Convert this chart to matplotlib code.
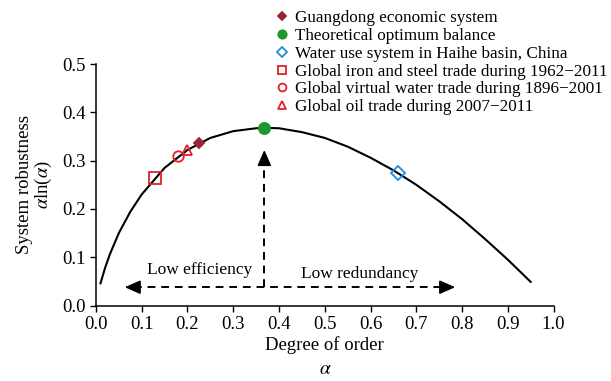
import numpy as np
import matplotlib.pyplot as plt

plt.rcParams['font.family'] = ['Liberation Serif', 'DejaVu Serif']
plt.rcParams['mathtext.fontset'] = 'stix'

# robustness curve
alpha = [0.01, 0.02, 0.03, 0.05, 0.075, 0.10, 0.15, 0.20, 0.25, 0.30, 0.35, 0.368,
         0.40, 0.45, 0.50, 0.55, 0.60, 0.65, 0.70, 0.75, 0.80, 0.85, 0.90, 0.95]
robustness = [0.046, 0.078, 0.105, 0.150, 0.194, 0.230, 0.285, 0.322, 0.347,
              0.361, 0.367, 0.368, 0.367, 0.359, 0.347, 0.329, 0.306, 0.280,
              0.250, 0.216, 0.179, 0.138, 0.095, 0.049]

# case-study systems placed on the curve
case_names = ['Guangdong economic system',
              'Theoretical optimum balance',
              'Water use system in Haihe basin, China',
              'Global iron and steel trade during 1962\u22122011',
              'Global virtual water trade during 1896\u22122001',
              'Global oil trade during 2007\u22122011']
case_alpha = [0.225, 0.368, 0.66, 0.13, 0.18, 0.20]
case_value = [0.336, 0.368, 0.274, 0.265, 0.309, 0.322]
case_marker = ['D', 'o', 'D', 's', 'o', '^']
case_face = ['#9b2335', '#1a9a2a', 'none', 'none', 'none', 'none']
case_edge = ['#9b2335', '#1a9a2a', '#1f8de0', '#e0202a', '#e0202a', '#e0202a']
case_size = [5.5, 8, 7, 8, 7.5, 7.5]

# guide arrows: optimum line and the two regimes
opt_alpha = 0.368
guide_y = 0.038
guide_top = 0.322
guide_left, guide_right = 0.063, 0.785

fig = plt.figure(figsize=(6.11, 3.81), dpi=100)
ax = fig.add_axes([0.157, 0.198, 0.749, 0.634])

ax.plot(alpha, robustness, color='black', lw=1.5, zorder=2)

for name, a, v, m, fc, ec, ms in zip(case_names, case_alpha, case_value,
                                     case_marker, case_face, case_edge, case_size):
    ax.plot(a, v, linestyle='none', marker=m, markersize=ms, markerfacecolor=fc,
            markeredgecolor=ec, markeredgewidth=1.3, label=name, zorder=3)

# dashed shafts
dash = dict(color='black', lw=1.4, linestyle=(0, (4, 3)), zorder=2)
ax.plot([opt_alpha, opt_alpha], [guide_y, guide_top - 0.015], **dash)
ax.plot([guide_left + 0.02, guide_right - 0.02], [guide_y, guide_y], **dash)

# solid arrowheads
head = dict(arrowstyle='-|>,head_length=0.95,head_width=0.42', color='black',
            lw=1.2, shrinkA=0, shrinkB=0, mutation_scale=10)
ax.annotate('', xy=(opt_alpha, guide_top), xytext=(opt_alpha, guide_top - 0.025),
            arrowprops=head)
ax.annotate('', xy=(guide_left, guide_y), xytext=(guide_left + 0.028, guide_y),
            arrowprops=head)
ax.annotate('', xy=(guide_right, guide_y), xytext=(guide_right - 0.028, guide_y),
            arrowprops=head)

ax.text(0.227, 0.073, 'Low efficiency', ha='center', va='center', fontsize=12.5)
ax.text(0.577, 0.065, 'Low redundancy', ha='center', va='center', fontsize=12.5)

ax.set_xlim(0, 1.0)
ax.set_ylim(0, 0.5)
ax.set_xticks(np.arange(0, 1.01, 0.1))
ax.set_xticklabels([f'{t:.1f}' for t in np.arange(0, 1.01, 0.1)])
ax.set_yticks(np.arange(0, 0.51, 0.1))
ax.set_yticklabels([f'{t:.1f}' for t in np.arange(0, 0.51, 0.1)])
ax.tick_params(labelsize=13.5, direction='out', length=4, width=1)
for s in ['top', 'right']:
    ax.spines[s].set_visible(False)
for s in ['left', 'bottom']:
    ax.spines[s].set_linewidth(1.1)

ax.set_xlabel('Degree of order', fontsize=13.5, labelpad=2)
ax.set_ylabel('System robustness\n' + r'$\alpha$ln($\alpha$)', fontsize=13.5,
              linespacing=1.0, labelpad=6)
fig.text(0.532, 0.03, r'$\alpha$', ha='center', va='center', fontsize=14)

ax.legend(loc='upper left', bbox_to_anchor=(0.437, 0.995), bbox_transform=fig.transFigure,
          frameon=False, fontsize=12.3, handlelength=0.7, handletextpad=0.45,
          labelspacing=0.1, borderaxespad=0.1, markerscale=0.75)

fig.savefig('out.png', dpi=100)
